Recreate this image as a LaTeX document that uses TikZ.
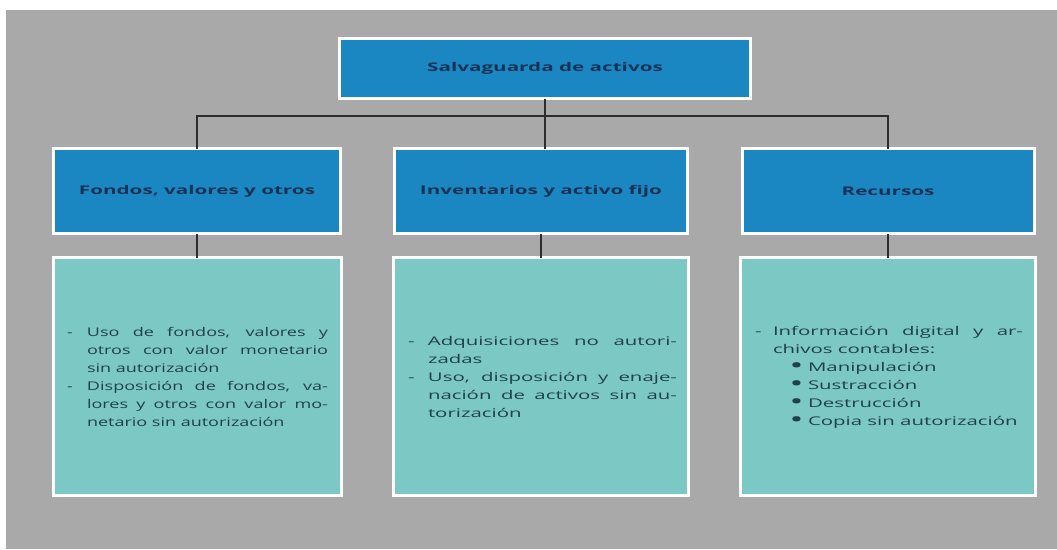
\documentclass[tikz,border=0pt]{standalone}
\usepackage{fontspec}
\setmainfont{Open Sans}
\newfontfamily\headfont[FakeStretch=1.72]{Open Sans}
\newfontfamily\leftbody[FakeStretch=1.5]{Open Sans}
\newfontfamily\widebody[FakeStretch=1.7]{Open Sans}
\definecolor{bggray}{RGB}{169,169,169}
\definecolor{headblue}{RGB}{27,135,194}
\definecolor{bodyteal}{RGB}{123,200,197}
\definecolor{headtext}{RGB}{22,50,86}
\definecolor{bodytext}{RGB}{34,64,72}
\definecolor{linegray}{RGB}{45,45,45}
\newcommand\bigbullet{{\fontsize{17}{18}\selectfont\textbf{•}}}
\begin{document}
\begin{tikzpicture}[x=1pt,y=-1pt,
  headbox/.style={rectangle, fill=headblue, draw=white, line width=3pt,
    inner sep=0pt, outer sep=0pt, text=headtext,
    font=\headfont\fontsize{12}{14}\selectfont\bfseries},
  bodybox/.style={rectangle, fill=bodyteal, draw=white, line width=3pt,
    inner sep=0pt, outer sep=0pt, text=bodytext, align=left},
  bodytxt/.style={text=bodytext, align=left, inner sep=0pt},
  conn/.style={draw=linegray, line width=1.8pt}]
\useasboundingbox (0,0) rectangle (1057,549);
\fill[white] (0,0) rectangle (1057,549);
\fill[bggray] (6,10) rectangle (1057,549);

% top
\node[headbox, minimum width=411pt, minimum height=60pt] (top) at (545,68.5) {Salvaguarda de activos};
% middle row
\node[headbox, minimum width=287pt, minimum height=85pt] (h1) at (197,191) {Fondos, valores y otros};
\node[headbox, minimum width=293pt, minimum height=85pt] (h2) at (541,191) {Inventarios y activo fijo};
\node[headbox, minimum width=292pt, minimum height=85pt] (h3) at (888,191) {Recursos};
% bottom row
\node[bodybox, minimum width=288pt, minimum height=238pt] (b1) at (197.5,376.5) {};
\node[bodybox, minimum width=295pt, minimum height=238pt] (b2) at (541,376.5) {};
\node[bodybox, minimum width=295pt, minimum height=238pt] (b3) at (888,376.5) {};

% texts
\node[bodytxt, font=\leftbody\fontsize{12}{18}\selectfont] (t1) at (b1.center) {%
\makebox[20pt][l]{-}\makebox[241pt][s]{Uso de fondos, valores y}\\
\hspace*{20pt}\makebox[241pt][s]{otros con valor monetario}\\
\hspace*{20pt}\makebox[241pt][l]{sin autorización}\\
\makebox[20pt][l]{-}\makebox[241pt][s]{Disposición de fondos, va-}\\
\hspace*{20pt}\makebox[241pt][s]{lores y otros con valor mo-}\\
\hspace*{20pt}\makebox[241pt][l]{netario sin autorización}};

\node[bodytxt, font=\widebody\fontsize{12}{18}\selectfont] (t2) at (542.5,377) {%
\makebox[20pt][l]{-}\makebox[249pt][s]{Adquisiciones no autori-}\\
\hspace*{20pt}\makebox[249pt][l]{zadas}\\
\makebox[20pt][l]{-}\makebox[249pt][s]{Uso, disposición y enaje-}\\
\hspace*{20pt}\makebox[249pt][s]{nación de activos sin au-}\\
\hspace*{20pt}\makebox[249pt][l]{torización}};

\node[bodytxt, font=\widebody\fontsize{12}{18}\selectfont] (t3) at (889,377) {%
\makebox[18pt][l]{-}\makebox[250pt][s]{Información digital y ar-}\\
\hspace*{18pt}\makebox[250pt][l]{chivos contables:}\\
\hspace*{36pt}\makebox[17pt][l]{\bigbullet}\makebox[215pt][l]{Manipulación}\\
\hspace*{36pt}\makebox[17pt][l]{\bigbullet}\makebox[215pt][l]{Sustracción}\\
\hspace*{36pt}\makebox[17pt][l]{\bigbullet}\makebox[215pt][l]{Destrucción}\\
\hspace*{36pt}\makebox[17pt][l]{\bigbullet}\makebox[215pt][l]{Copia sin autorización}};

% connectors
\coordinate (hl) at (545,116);
\draw[conn] (top.south) -- (top.south |- hl);
\draw[conn] (h1.north) -- (h1.north |- hl) -- (h3.north |- hl) -- (h3.north);
\draw[conn] (top.south |- hl) -- (top.south |- h2.north);
\draw[conn] (h1.south) -- (h1.south |- b1.north);
\draw[conn] (h2.south) -- (h2.south |- b2.north);
\draw[conn] (h3.south) -- (h3.south |- b3.north);
\end{tikzpicture}
\end{document}
